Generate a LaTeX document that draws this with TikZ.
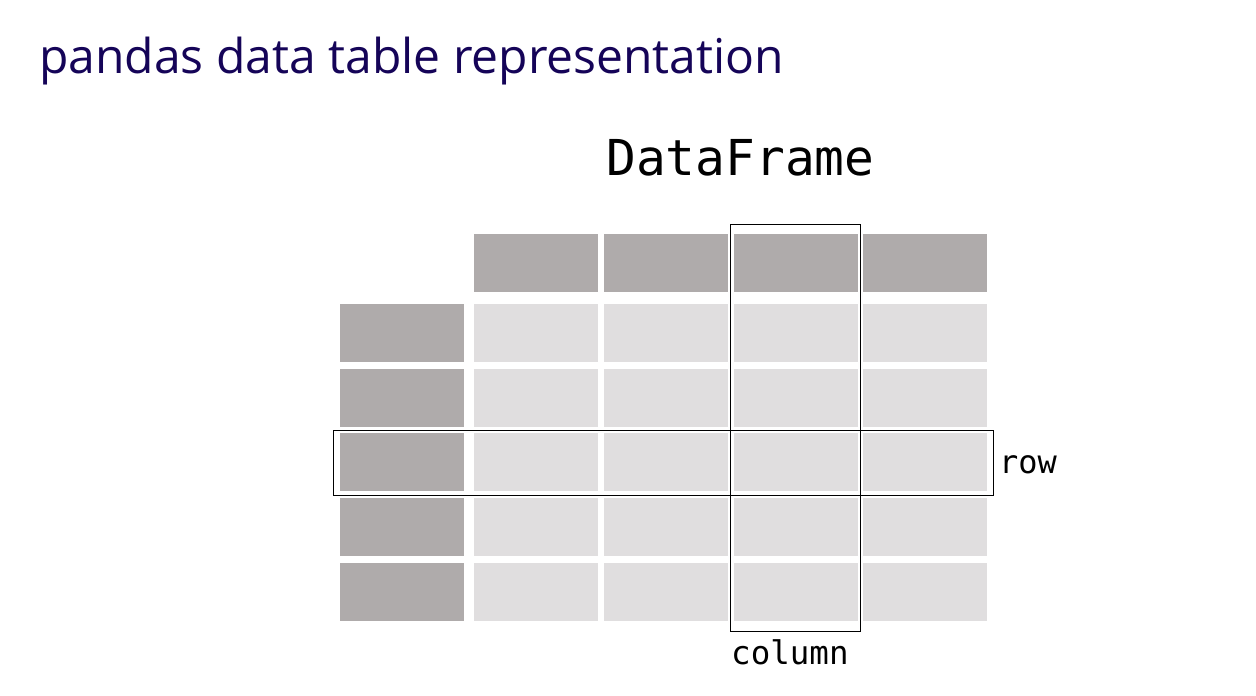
\documentclass[tikz,border=0pt]{standalone}
\usepackage{fontspec}
\setmainfont{Open Sans}
\newfontfamily\monofont{DejaVu Sans Mono}
\definecolor{titleblue}{HTML}{150458}
\definecolor{darkcell}{HTML}{AFABAB}
\definecolor{lightcell}{HTML}{E0DEDF}
\tikzset{
  cellbase/.style={draw=none, inner sep=0pt, outer sep=0pt, minimum width=124pt, minimum height=58pt, anchor=north west},
  headcell/.style={cellbase, fill=darkcell},
  indexcell/.style={cellbase, fill=darkcell},
  datacell/.style={cellbase, fill=lightcell},
  selbox/.style={draw=black, line width=1.4pt, fill=none, inner sep=0pt, outer sep=0pt, anchor=north west},
  monolabel/.style={inner sep=0pt, anchor=base west, font=\monofont}
}
\begin{document}
\begin{tikzpicture}[x=1pt,y=-1pt]
\useasboundingbox (0,0) rectangle (1256,696);
\fill[white] (0,0) rectangle (1256,696);
\node[inner sep=0pt, anchor=base west, text=titleblue, font=\fontsize{48}{58}\selectfont] (title) at (39,73) {pandas data table representation};
\node[monolabel, font=\monofont\fontsize{49.5}{60}\selectfont] (df) at (606,175) {DataFrame};
% header cells
\foreach \c/\x in {1/474,2/604,3/734,4/863}{
  \node[headcell] (h\c) at (\x,234) {};
}
% index and data cells
\foreach \r/\y in {1/304,2/369,3/433,4/498,5/563}{
  \node[indexcell] (i\r) at (340,\y) {};
  \foreach \c/\x in {1/474,2/604,3/734,4/863}{
    \node[datacell] (d\r\c) at (\x,\y) {};
  }
}
% selection boxes
\node[selbox, minimum width=130pt, minimum height=407pt] (colbox) at (730.5,224.5) {};
\node[selbox, minimum width=660pt, minimum height=65pt] (rowbox) at (333.5,430.5) {};
\node[monolabel, font=\monofont\fontsize{32}{38}\selectfont] (rowlbl) at (999,473) {row};
\node[monolabel, font=\monofont\fontsize{32.5}{38}\selectfont] (collbl) at (731,664) {column};
\end{tikzpicture}
\end{document}
